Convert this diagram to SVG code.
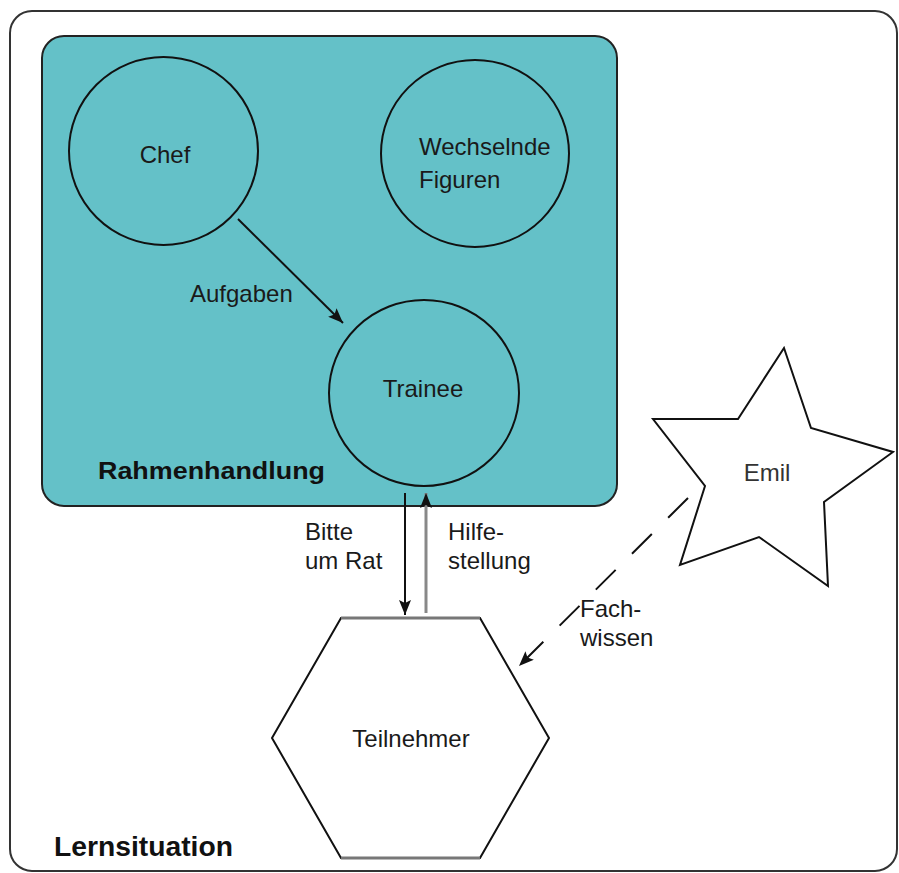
<svg xmlns="http://www.w3.org/2000/svg" width="899" height="873" viewBox="0 0 899 873">
<defs>
<style>
.lbl{font-family:"Liberation Sans",Arial,sans-serif;font-size:24px;fill:#1a1a1a}
.bold{font-family:"Liberation Sans",Arial,sans-serif;font-weight:bold;fill:#111}
.node{stroke:#111;stroke-width:2}
.conn{stroke:#111;stroke-width:2;fill:none}
</style>
<marker id="ah" markerUnits="userSpaceOnUse" markerWidth="16" markerHeight="12" refX="15" refY="6" orient="auto">
<path d="M0,0 L15,6 L0,12 L3,6 Z" fill="#111"/>
</marker>
</defs>
<rect width="899" height="873" fill="#fff"/>
<g id="lernsituation">
<rect x="10" y="11" width="887" height="860" rx="22" fill="#fff" stroke="#333" stroke-width="2"/>
<text class="bold" x="54" y="856" font-size="27" textLength="179" lengthAdjust="spacingAndGlyphs">Lernsituation</text>
</g>
<g id="rahmenhandlung">
<rect x="42" y="36" width="575" height="470" rx="22" fill="#64c1c8" stroke="#222" stroke-width="2"/>
<text class="bold" x="98" y="479" font-size="24" textLength="227" lengthAdjust="spacingAndGlyphs">Rahmenhandlung</text>
</g>
<g id="chef">
<ellipse cx="163.5" cy="151" rx="94.5" ry="94" fill="#64c1c8" class="node"/>
<text class="lbl" x="165" y="163" text-anchor="middle">Chef</text>
</g>
<g id="wechselnde">
<ellipse cx="475" cy="153.5" rx="94" ry="93.5" fill="#64c1c8" class="node"/>
<text class="lbl" x="419" y="155">Wechselnde</text>
<text class="lbl" x="419" y="188">Figuren</text>
</g>
<g id="trainee">
<ellipse cx="424" cy="393" rx="95" ry="93" fill="#64c1c8" class="node"/>
<text class="lbl" x="423" y="397" text-anchor="middle">Trainee</text>
</g>
<g id="teilnehmer">
<polygon points="341,618 480,618 549,738 480,858 341,858 272,738" fill="#fff" class="node"/>
<line x1="341" y1="618" x2="480" y2="618" stroke="#777" stroke-width="3"/>
<line x1="341" y1="858" x2="480" y2="858" stroke="#777" stroke-width="3"/>
<text class="lbl" x="411" y="747" text-anchor="middle">Teilnehmer</text>
</g>
<g id="emil">
<polygon points="784,348 811,428 893,452 824,502 828,586 759,537 680,565 705,486 653,419 738,419" fill="#fff" class="node"/>
<text class="lbl" x="767" y="481" text-anchor="middle" fill="#333" style="fill:#333">Emil</text>
</g>
<g id="connectors">
<line class="conn" x1="238" y1="219" x2="343" y2="323" marker-end="url(#ah)"/>
<text class="lbl" x="190" y="302">Aufgaben</text>
<line class="conn" x1="405" y1="493" x2="405" y2="615" marker-end="url(#ah)"/>
<text class="lbl" x="305" y="540">Bitte</text>
<text class="lbl" x="305" y="569">um Rat</text>
<line x1="426" y1="613" x2="426" y2="493" stroke="#888" stroke-width="3" marker-end="url(#ah)"/>
<text class="lbl" x="448" y="540">Hilfe-</text>
<text class="lbl" x="448" y="569">stellung</text>
<line class="conn" x1="688" y1="498" x2="519" y2="666" stroke-dasharray="28 23" marker-end="url(#ah)"/>
<text class="lbl" x="580" y="617">Fach-</text>
<text class="lbl" x="580" y="646">wissen</text>
</g>
</svg>
